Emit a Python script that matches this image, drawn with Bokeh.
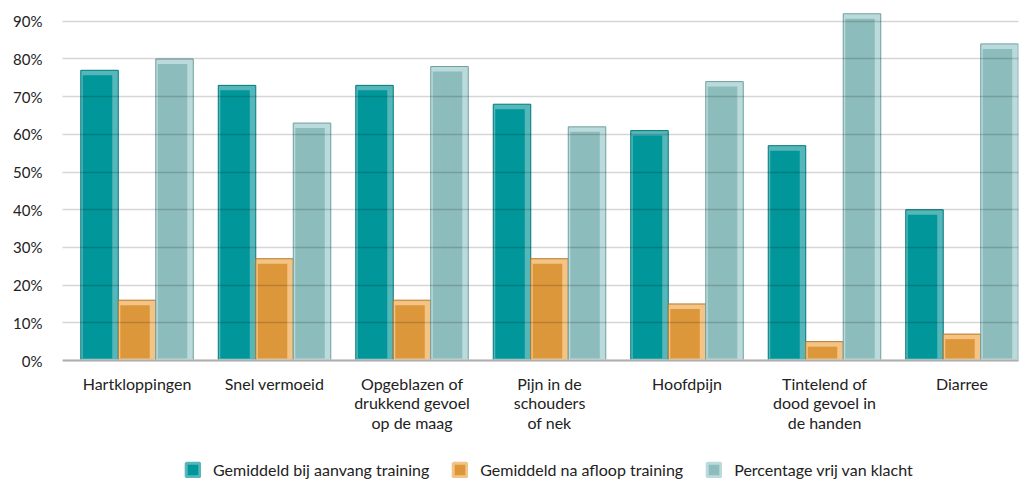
from bokeh.plotting import figure
from bokeh.models import (Range1d, FixedTicker, Legend, LegendItem, ColumnDataSource, Span)
from bokeh.core.properties import value
from bokeh.embed import file_html
from bokeh.resources import INLINE

categories = ["Hartkloppingen", "Snel vermoeid", "Opgeblazen of\ndrukkend gevoel\nop de maag",
              "Pijn in de\nschouders\nof nek", "Hoofdpijn", "Tintelend of\ndood gevoel in\nde handen", "Diarree"]
series_names = ["Gemiddeld bij aanvang training", "Gemiddeld na afloop training", "Percentage vrij van klacht"]
aanvang = [77, 73, 73, 68, 61, 57, 40]
afloop = [16, 27, 16, 27, 15, 5, 7]
vrij = [80, 63, 78, 62, 74, 92, 84]
y_ticks = [0, 10, 20, 30, 40, 50, 60, 70, 80, 90]

main_cols = ["#00969A", "#DD973B", "#8DBCBD"]
bevel_cols = ["#55B7B9", "#F3C485", "#BBDADB"]
edge_cols = ["#00787C", "#B57728", "#6F9FA0"]

# layout (pixels)
FW = 956
PLOT_H = 349          # pixels from 0% to top of value area
FH = 469              # frame extends below 0 to hold category labels and legend
X0, X1 = -0.542, 6.411
Y1 = 92.6
px_x = (X1 - X0) / FW
px_y = Y1 / PLOT_H
Y0 = Y1 - FH * px_y
bw = 37.5 * px_x
offsets = [-bw, 0, bw]

p = figure(frame_width=FW, frame_height=FH, output_backend="svg", toolbar_location=None,
           x_range=Range1d(X0, X1), y_range=Range1d(Y0, Y1),
           min_border_left=62, min_border_top=11, min_border_right=2, min_border_bottom=0)
p.outline_line_color = None
p.background_fill_color = "white"
p.border_fill_color = "white"

xs = list(range(len(categories)))
legend_renderers = []
inner_sources = []
outer_sources = []
for k, vals in enumerate([aanvang, afloop, vrij]):
    left = [x + offsets[k] - bw / 2 for x in xs]
    right = [x + offsets[k] + bw / 2 for x in xs]
    outer_sources.append(ColumnDataSource(dict(left=left, right=right, top=vals, bottom=[0] * len(vals))))
    inner_sources.append(ColumnDataSource(dict(left=[l + 2 * px_x for l in left],
                                               right=[r - 6 * px_x for r in right],
                                               top=[v - 5 * px_y for v in vals],
                                               bottom=[2 * px_y] * len(vals))))

# legend swatches (hidden underneath the bars on the chart)
for k in range(3):
    r = p.quad(left="left", right="right", top="top", bottom="bottom", source=inner_sources[k],
               fill_color=main_cols[k], line_color=bevel_cols[k], line_width=3)
    legend_renderers.append(r)

for k in range(3):
    p.quad(left="left", right="right", top="top", bottom="bottom", source=outer_sources[k],
           fill_color=bevel_cols[k], line_color=edge_cols[k], line_width=1)
    p.quad(left="left", right="right", top="top", bottom="bottom", source=inner_sources[k],
           fill_color=main_cols[k], line_color=None)

# grid drawn over bars (semi-transparent)
p.xgrid.visible = False
p.ygrid.ticker = FixedTicker(ticks=y_ticks)
p.ygrid.grid_line_color = "black"
p.ygrid.grid_line_alpha = 0.16
p.ygrid.grid_line_width = 1.5
p.ygrid.level = "overlay"
p.add_layout(Span(location=0, dimension="width", line_color="#CFCFCF", line_width=2.5))

p.yaxis.ticker = FixedTicker(ticks=y_ticks)
p.yaxis.major_label_overrides = {t: f"{t}%" for t in y_ticks}
p.yaxis.axis_line_color = None
p.yaxis.major_tick_line_color = None
p.yaxis.minor_tick_line_color = None
p.yaxis.major_label_standoff = 14
p.yaxis.major_label_text_font = "Lato"
p.yaxis.major_label_text_font_size = "15px"
p.yaxis.major_label_text_color = "#222222"

p.xaxis.visible = False

# category labels
lab_src = ColumnDataSource(dict(x=xs, y=[-13 * px_y] * len(xs), text=categories))
p.text(x="x", y="y", text="text", source=lab_src, text_align="center", text_baseline="top",
       text_font=value("Lato"), text_font_size="16px", text_color="#222222", text_line_height=1.05)

items = [LegendItem(label=name, renderers=[legend_renderers[k]]) for k, name in enumerate(series_names)]
legend = Legend(items=items, orientation="horizontal", location=(122, 1),
                glyph_width=17, glyph_height=17, label_standoff=12, spacing=22,
                padding=0, margin=0, border_line_color=None, background_fill_alpha=0,
                label_text_font="Lato", label_text_font_size="16px", label_text_color="#222222")
p.add_layout(legend)

open("out.html", "w").write(file_html(p, INLINE))
